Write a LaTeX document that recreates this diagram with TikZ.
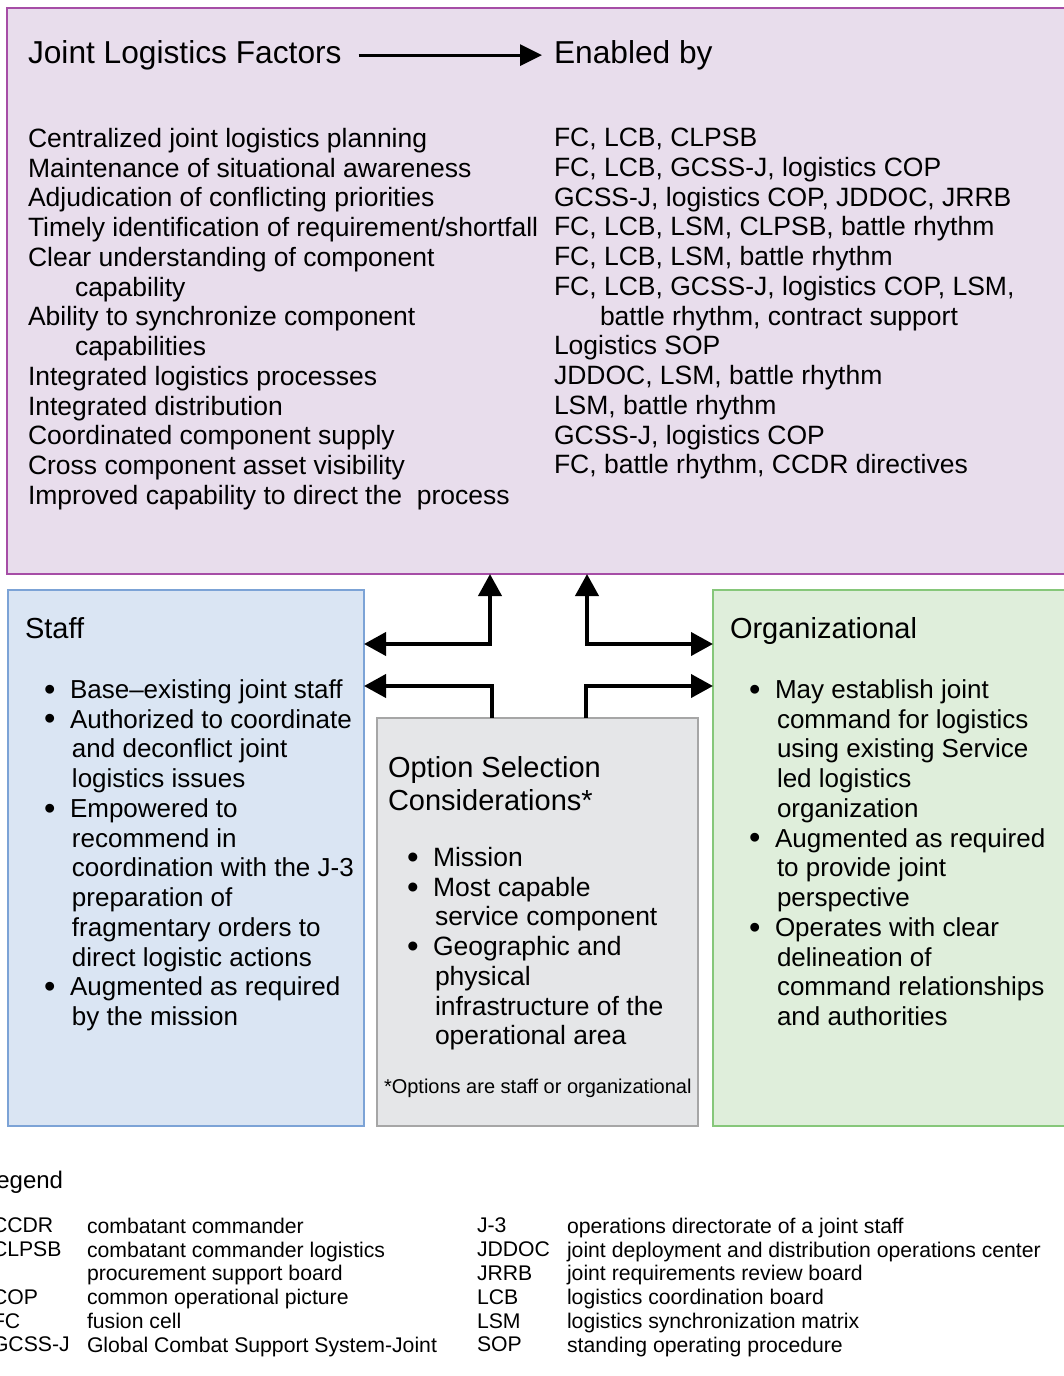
\documentclass[tikz,border=0pt]{standalone}
\usepackage{fontspec}
\setmainfont{Liberation Sans}
\usetikzlibrary{arrows.meta}

\definecolor{topfill}{RGB}{232,221,236}
\definecolor{topline}{RGB}{166,77,166}
\definecolor{stafffill}{RGB}{218,229,243}
\definecolor{staffline}{RGB}{124,163,214}
\definecolor{midfill}{RGB}{229,230,232}
\definecolor{midline}{RGB}{166,166,166}
\definecolor{orgfill}{RGB}{223,238,219}
\definecolor{orgline}{RGB}{134,199,122}

\newcommand{\bodyfont}{\fontsize{26.5pt}{29.75pt}\selectfont}
\newcommand{\itemfont}{\fontsize{26pt}{29.75pt}\selectfont}
\newcommand{\headfont}{\fontsize{31.7pt}{36pt}\selectfont}
\newcommand{\titlefont}{\fontsize{29pt}{33pt}\selectfont}
\newcommand{\legfont}{\fontsize{21.2pt}{23.8pt}\selectfont}
\newcommand{\notefont}{\fontsize{20pt}{24pt}\selectfont}
\newcommand{\bulitem}{\makebox[26pt][l]{\raisebox{-0.07em}{\scalebox{1.25}{\textbullet}}}}
\newcommand{\contline}{\hspace*{28pt}}

\begin{document}
\begin{tikzpicture}[x=1pt,y=-1pt,
  box/.style={draw, line width=1.5pt, inner sep=0pt, outer sep=0pt, anchor=north west},
  txt/.style={inner sep=0pt, outer sep=0pt, align=left, anchor=north west, font=\bodyfont},
  items/.style={txt, font=\itemfont},
  lbl/.style={inner sep=0pt, outer sep=0pt, anchor=base west},
  conn/.style={line width=4pt, line join=miter},
  >={Triangle[length=22pt,width=23pt]}]
\useasboundingbox (0,0) rectangle (1063,1376);

% boxes
\node[box, fill=topfill, draw=topline, line width=2pt, minimum width=1070pt, minimum height=566pt] (factors) at (7,8) {};
\node[box, fill=stafffill, draw=staffline, minimum width=356pt, minimum height=536pt] (staff) at (8,590) {};
\node[box, fill=midfill, draw=midline, minimum width=321pt, minimum height=408pt] (mid) at (377,718) {};
\node[box, fill=orgfill, draw=orgline, minimum width=362pt, minimum height=536pt] (org) at (713,590) {};

% header
\node[lbl, font=\headfont] (jlf) at (28,63.3) {Joint Logistics Factors};
\node[lbl, font=\headfont] (enb) at (554,63.3) {Enabled by};
\draw[line width=3pt, -{Triangle[length=22pt,width=21pt]}, shorten <=17pt, shorten >=12pt] (jlf.east) -- (enb.west);

% factor list
\node[txt] (factorlist) at (28,128.2) {Centralized joint logistics planning\\
Maintenance of situational awareness\\
Adjudication of conflicting priorities\\
Timely identification of requirement/shortfall\\
Clear understanding of component\\
\hspace*{47pt}capability\\
Ability to synchronize component\\
\hspace*{47pt}capabilities\\
Integrated logistics processes\\
Integrated distribution\\
Coordinated component supply\\
Cross component asset visibility\\
Improved capability to direct the~ process};

\node[txt] (enablerlist) at (554,128.2) {FC, LCB, CLPSB\\
FC, LCB, GCSS-J, logistics COP\\
GCSS-J, logistics COP, JDDOC, JRRB\\
FC, LCB, LSM, CLPSB, battle rhythm\\
FC, LCB, LSM, battle rhythm\\
FC, LCB, GCSS-J, logistics COP, LSM,\\
\hspace*{46pt}battle rhythm, contract support\\
Logistics SOP\\
JDDOC, LSM, battle rhythm\\
LSM, battle rhythm\\
GCSS-J, logistics COP\\
FC, battle rhythm, CCDR directives};

% staff option
\node[lbl, font=\titlefont] (stafftitle) at (25,638.4) {Staff};
\node[items] (staffitems) at (44,679.5) {\bulitem Base–existing joint staff\\
\bulitem Authorized to coordinate\\
\contline and deconflict joint\\
\contline logistics issues\\
\bulitem Empowered to\\
\contline recommend in\\
\contline coordination with the J-3\\
\contline preparation of\\
\contline fragmentary orders to\\
\contline direct logistic actions\\
\bulitem Augmented as required\\
\contline by the mission};

% option selection
\node[txt, font=\titlefont] (midtitle) at (388,756.2) {Option Selection\\Considerations*};
\node[txt] (miditems) at (407,847.2) {\bulitem Mission\\
\bulitem Most capable\\
\contline service component\\
\bulitem Geographic and\\
\contline physical\\
\contline infrastructure of the\\
\contline operational area};
\node[lbl, font=\notefont] (midnote) at (384,1093.4) {*Options are staff or organizational};

% organizational option
\node[lbl, font=\titlefont] (orgtitle) at (730,638.4) {Organizational};
\node[items] (orgitems) at (749,679.5) {\bulitem May establish joint\\
\contline command for logistics\\
\contline using existing Service\\
\contline led logistics\\
\contline organization\\
\bulitem Augmented as required\\
\contline to provide joint\\
\contline perspective\\
\bulitem Operates with clear\\
\contline delineation of\\
\contline command relationships\\
\contline and authorities};

% connectors
\coordinate (a1) at (490,644);
\coordinate (a2) at (492,686);
\coordinate (a3) at (587,644);
\coordinate (a4) at (586,686);
\draw[conn, <->] (staff.east |- a1) -| (factors.south -| a1);
\draw[conn, ->] (mid.north -| a2) |- (staff.east |- a2);
\draw[conn, <->] (factors.south -| a3) |- (org.west |- a3);
\draw[conn, ->] (mid.north -| a4) |- (org.west |- a4);

% legend
\node[lbl, font=\fontsize{24pt}{28pt}\selectfont] (legtitle) at (-17,1188.6) {Legend};
\node[txt, font=\legfont] (legabbr1) at (-8,1218) {CCDR\\CLPSB\\\mbox{}\\COP\\FC\\GCSS-J};
\node[txt, font=\legfont] (legdef1) at (87,1218) {combatant commander\\combatant commander logistics\\procurement support board\\common operational picture\\fusion cell\\Global Combat Support System-Joint};
\node[txt, font=\legfont] (legabbr2) at (477,1218) {J-3\\JDDOC\\JRRB\\LCB\\LSM\\SOP};
\node[txt, font=\legfont] (legdef2) at (567,1218) {operations directorate of a joint staff\\joint deployment and distribution operations center\\joint requirements review board\\logistics coordination board\\logistics synchronization matrix\\standing operating procedure};
\end{tikzpicture}
\end{document}
